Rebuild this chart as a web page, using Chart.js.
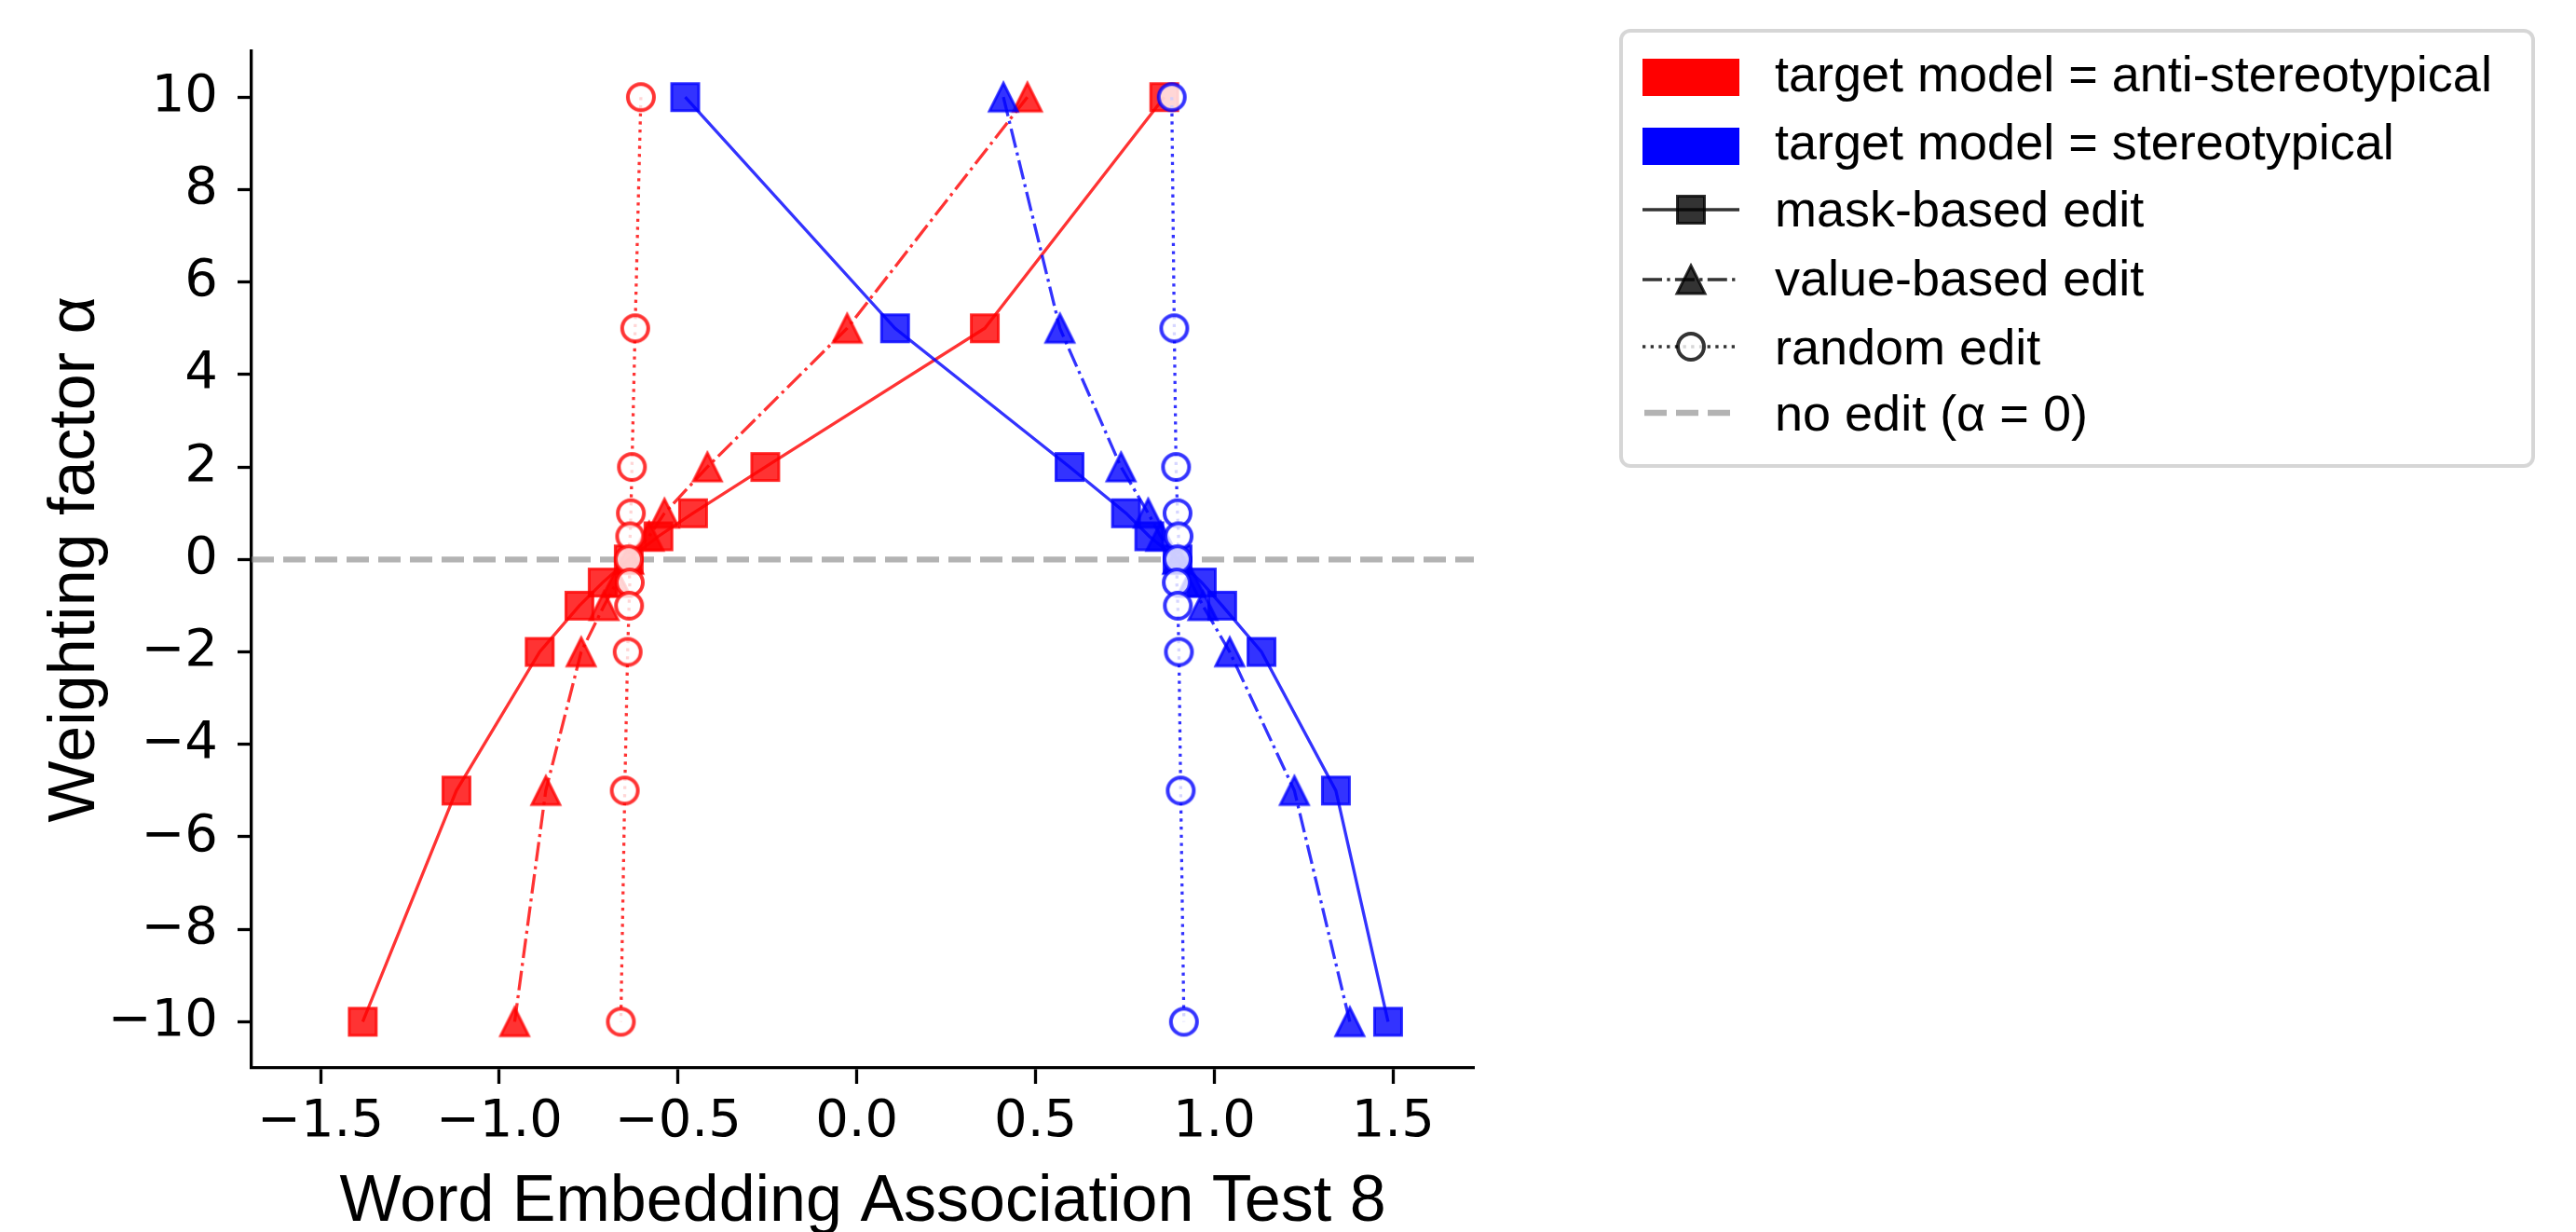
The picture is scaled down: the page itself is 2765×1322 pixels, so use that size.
<!DOCTYPE html>
<html>
<head>
<meta charset="utf-8">
<script src="https://cdn.jsdelivr.net/npm/chart.js@4.4.1/dist/chart.umd.min.js"></script>
<style>
  body { margin: 0; background: #fff; }
  canvas { display: block; }
</style>
</head>
<body>
<canvas id="myChart" width="2765" height="1322"></canvas>
<script>
var ctx = document.getElementById('myChart');

// weighting factor alpha of every point (y axis)
var alphaValues = [10, 5, 2, 1, 0.5, 0, -0.5, -1, -2, -5, -10];

// WEAT 8 scores, target model = anti-stereotypical
var antiMask   = [0.86, 0.358, -0.256, -0.458, -0.555, -0.638, -0.711, -0.776, -0.887, -1.12, -1.382];
var antiValue  = [0.477, -0.027, -0.418, -0.538, -0.581, -0.638, -0.672, -0.707, -0.771, -0.87, -0.957];
var antiRandom = [-0.604, -0.62, -0.629, -0.632, -0.634, -0.638, -0.635, -0.637, -0.641, -0.649, -0.66];

// WEAT 8 scores, target model = stereotypical
var stereoMask   = [-0.48, 0.107, 0.595, 0.753, 0.818, 0.897, 0.965, 1.022, 1.132, 1.34, 1.486];
var stereoValue  = [0.41, 0.568, 0.739, 0.815, 0.85, 0.897, 0.935, 0.968, 1.043, 1.224, 1.379];
var stereoRandom = [0.881, 0.888, 0.893, 0.897, 0.9, 0.897, 0.895, 0.898, 0.901, 0.906, 0.915];

var xTicks = [-1.5, -1.0, -0.5, 0.0, 0.5, 1.0, 1.5];
var yTicks = [-10, -8, -6, -4, -2, 0, 2, 4, 6, 8, 10];

var legendLabels = [
  'target model = anti-stereotypical',
  'target model = stereotypical',
  'mask-based edit',
  'value-based edit',
  'random edit',
  'no edit (\u03b1 = 0)'
];

const X_MIN = -1.693;
const X_MAX = 1.726;
const Y_MIN = -11;
const Y_MAX = 11;

const RED = '255,0,0';
const BLUE = '0,0,255';
const BLACK = '0,0,0';
const LINE_W = 3.3;
const DOTTED = [3.3, 5.4];
const DASHDOT = [21, 5.3, 3.3, 5.3];

function toPoints(xs){
  return xs.map((x, i) => ({x: x, y: alphaValues[i]}));
}

// matplotlib-like markers drawn once on small canvases
function makeMarker(shape, rgb){
  var c = document.createElement('canvas');
  c.width = 44; c.height = 44;
  var g = c.getContext('2d');
  g.lineJoin = 'miter';
  g.beginPath();
  if (shape === 'square') {
    g.rect(7.5, 7.5, 29, 29);
    g.lineWidth = 3;
    g.fillStyle = 'rgba(' + rgb + ',0.8)';
  } else if (shape === 'triangle') {
    g.moveTo(22, 7); g.lineTo(37, 37); g.lineTo(7, 37); g.closePath();
    g.lineWidth = 3;
    g.fillStyle = 'rgba(' + rgb + ',0.8)';
  } else {
    g.arc(22, 22, 14, 0, Math.PI * 2);
    g.lineWidth = 4;
    g.fillStyle = 'rgba(255,255,255,0.8)';
  }
  g.fill();
  g.strokeStyle = 'rgba(' + rgb + ',0.8)';
  g.stroke();
  return c;
}

function series(xs, rgb, shape, dash, order){
  return {
    data: toPoints(xs),
    showLine: true,
    borderColor: 'rgba(' + rgb + ',0.8)',
    borderWidth: LINE_W,
    borderDash: dash,
    pointStyle: makeMarker(shape, rgb),
    pointRadius: 16,
    pointHoverRadius: 16,
    order: order
  };
}

function fmtX(v){ return (v < 0 ? '\u2212' : '') + Math.abs(v).toFixed(1); }
function fmtY(v){ return (v < 0 ? '\u2212' : '') + Math.abs(v); }

// custom legend with line + marker handles
const legendBox = {
  id: 'legendBox',
  afterDraw(chart){
    var c = chart.ctx;
    c.save();
    c.beginPath();
    c.roundRect(1740, 33, 979, 467, 10);
    c.fillStyle = 'rgba(255,255,255,0.8)';
    c.fill();
    c.lineWidth = 4;
    c.strokeStyle = 'rgba(204,204,204,0.8)';
    c.stroke();

    var x0 = 1763, x1 = 1867, xm = 1815;
    c.fillStyle = 'rgb(255,0,0)';
    c.fillRect(x0, 63, x1 - x0, 40);
    c.fillStyle = 'rgb(0,0,255)';
    c.fillRect(x0, 137, x1 - x0, 40);

    var rows = [
      {y: 225, dash: [], shape: 'square'},
      {y: 300, dash: DASHDOT, shape: 'triangle'},
      {y: 372, dash: DOTTED, shape: 'circle'}
    ];
    rows.forEach(r => {
      c.beginPath();
      c.setLineDash(r.dash);
      c.lineWidth = LINE_W;
      c.strokeStyle = 'rgba(0,0,0,0.8)';
      c.moveTo(x0, r.y); c.lineTo(x1, r.y);
      c.stroke();
      var m = makeMarker(r.shape, BLACK);
      c.drawImage(m, xm - m.width / 2, r.y - m.height / 2);
    });

    c.beginPath();
    c.setLineDash([24, 10]);
    c.lineWidth = 6.3;
    c.strokeStyle = 'rgba(128,128,128,0.6)';
    c.moveTo(x0 + 2, 443); c.lineTo(x1, 443);
    c.stroke();
    c.setLineDash([]);

    var baselines = [98, 171, 243, 317, 391, 462];
    c.font = '54px "Liberation Sans", Arial, sans-serif';
    c.fillStyle = '#000';
    c.textAlign = 'left';
    c.textBaseline = 'alphabetic';
    legendLabels.forEach((t, i) => c.fillText(t, 1905, baselines[i]));
    c.restore();
  }
};

var chart = new Chart(ctx, {
  type: 'scatter',
  data: {
    datasets: [
      {
        data: [{x: X_MIN, y: 0}, {x: X_MAX, y: 0}],
        showLine: true,
        borderColor: 'rgba(128,128,128,0.6)',
        borderWidth: 6.3,
        borderDash: [24, 10],
        pointRadius: 0,
        order: 7
      },
      series(antiMask, RED, 'square', [], 6),
      series(antiValue, RED, 'triangle', DASHDOT, 5),
      series(antiRandom, RED, 'circle', DOTTED, 4),
      series(stereoMask, BLUE, 'square', [], 3),
      series(stereoValue, BLUE, 'triangle', DASHDOT, 2),
      series(stereoRandom, BLUE, 'circle', DOTTED, 1)
    ]
  },
  options: {
    responsive: false,
    animation: false,
    layout: { padding: { left: 0, top: 40, right: 1183, bottom: 0 } },
    plugins: {
      legend: { display: false },
      tooltip: { enabled: false }
    },
    scales: {
      x: {
        type: 'linear',
        min: X_MIN,
        max: X_MAX,
        afterBuildTicks: s => { s.ticks = xTicks.map(v => ({value: v})); },
        afterFit: s => { s.height = 176; },
        grid: { drawOnChartArea: false, drawTicks: true, tickLength: 17, tickWidth: 3.3, tickColor: '#000' },
        border: { display: true, color: '#000', width: 3.3 },
        ticks: {
          font: { family: 'DejaVu Sans', size: 56 },
          color: '#000',
          padding: 8,
          maxRotation: 0,
          autoSkip: false,
          callback: fmtX
        },
        title: {
          display: true,
          text: 'Word Embedding Association Test 8',
          font: { family: 'Liberation Sans', size: 70, lineHeight: 0.9 },
          color: '#000',
          padding: { top: 0, bottom: 0 }
        }
      },
      y: {
        type: 'linear',
        min: Y_MIN,
        max: Y_MAX,
        afterBuildTicks: s => { s.ticks = yTicks.map(v => ({value: v})); },
        afterFit: s => { s.width = 270; },
        grid: { drawOnChartArea: false, drawTicks: true, tickLength: 15, tickWidth: 3.3, tickColor: '#000' },
        border: { display: true, color: '#000', width: 3.3 },
        ticks: {
          font: { family: 'DejaVu Sans', size: 56 },
          color: '#000',
          padding: 21,
          autoSkip: false,
          callback: fmtY
        },
        title: {
          display: true,
          text: 'Weighting factor \u03b1',
          font: { family: 'Liberation Sans', size: 70, lineHeight: 0.9 },
          color: '#000',
          padding: { top: 50, bottom: 0 }
        }
      }
    }
  },
  plugins: [legendBox]
});
</script>
</body>
</html>
